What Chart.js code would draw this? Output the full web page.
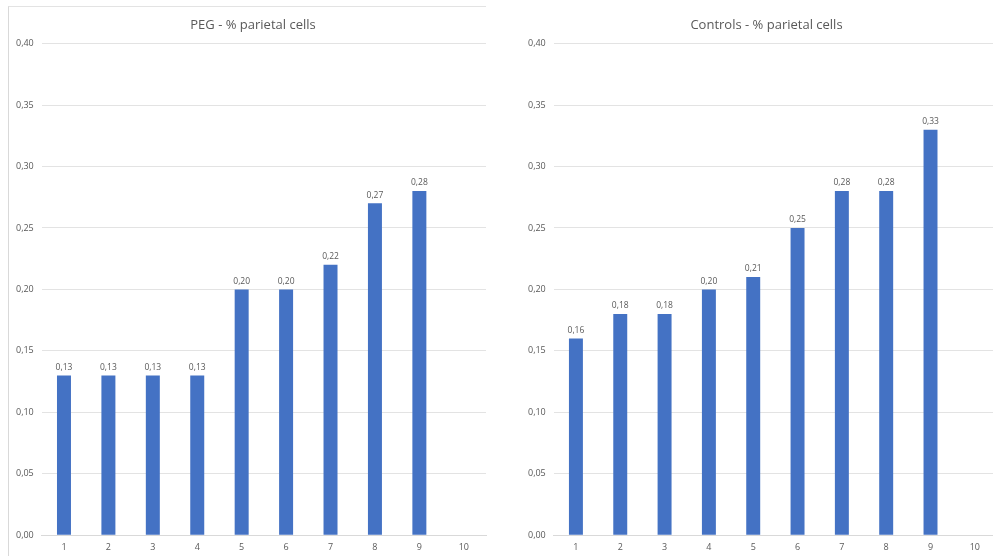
<!DOCTYPE html>
<html lang="en">
<head>
    <meta charset="UTF-8">
    <title>% parietal cells</title>
    <script src="https://cdn.jsdelivr.net/npm/chart.js"></script>
    <style>
        html, body {
            margin: 0;
            padding: 0;
            background: #fff;
            overflow: hidden;
            width: 993px;
            height: 556px;
        }
        .frame {
            position: absolute;
            left: 8px;
            top: 6px;
            width: 477px;
            height: 560px;
            border-left: 1px solid #d9d9d9;
            border-top: 1px solid #e3e3e3;
        }
        .box {
            position: absolute;
            top: 0;
            height: 556px;
        }
    </style>
</head>
<body>
    <div class="frame"></div>
    <div class="box" style="left:0; width:490px;"><canvas id="pegChart"></canvas></div>
    <div class="box" style="left:505px; width:498px;"><canvas id="controlChart"></canvas></div>

    <script>
        const categories = ['1', '2', '3', '4', '5', '6', '7', '8', '9', '10'];
        const pegValues = [0.13, 0.13, 0.13, 0.13, 0.20, 0.20, 0.22, 0.27, 0.28, null];
        const controlValues = [0.16, 0.18, 0.18, 0.20, 0.21, 0.25, 0.28, 0.28, 0.33, null];
        const yTicks = [0, 0.05, 0.10, 0.15, 0.20, 0.25, 0.30, 0.35, 0.40];

        const textColor = '#595959';
        const fontFamily = '"Open Sans", "Noto Sans", sans-serif';

        const comma = v => v.toFixed(2).replace('.', ',');

        // value labels above the bars
        const barLabels = {
            id: 'barLabels',
            afterDatasetsDraw(chart) {
                const ctx = chart.ctx;
                const ds = chart.data.datasets[0];
                ctx.save();
                ctx.font = '8.5px ' + fontFamily;
                ctx.fillStyle = textColor;
                ctx.textAlign = 'center';
                ctx.textBaseline = 'bottom';
                chart.getDatasetMeta(0).data.forEach((bar, i) => {
                    if (ds.data[i] == null) return;
                    ctx.fillText(comma(ds.data[i]), bar.x, bar.y - 4);
                });
                ctx.restore();
            }
        };

        // nudge the title sideways (Excel centres it on the whole chart box)
        const titleShift = {
            id: 'titleShift',
            afterLayout(chart, args, opts) {
                const t = chart.titleBlock;
                if (!t) return;
                t.left += opts.dx;
                t.right += opts.dx;
            }
        };

        function makeChart(id, title, values, padLeft, padRight, dx) {
            const ctx = document.getElementById(id).getContext('2d');
            return new Chart(ctx, {
                type: 'bar',
                data: {
                    labels: categories,
                    datasets: [{
                        data: values,
                        backgroundColor: '#4472C4',
                        barPercentage: 0.63,
                        categoryPercentage: 0.5
                    }]
                },
                options: {
                    responsive: true,
                    maintainAspectRatio: false,
                    animation: false,
                    layout: {
                        padding: { left: padLeft, right: padRight, top: 6, bottom: 4 }
                    },
                    plugins: {
                        legend: { display: false },
                        tooltip: { enabled: false },
                        titleShift: { dx: dx },
                        title: {
                            display: true,
                            text: title,
                            color: textColor,
                            font: { family: fontFamily, size: 13, weight: 'normal' },
                            padding: { top: 11, bottom: 11 }
                        }
                    },
                    scales: {
                        x: {
                            grid: { display: false },
                            border: { color: '#d9d9d9' },
                            ticks: {
                                color: textColor,
                                font: { family: fontFamily, size: 9 },
                                padding: -1
                            }
                        },
                        y: {
                            min: 0,
                            max: 0.4,
                            afterBuildTicks: axis => {
                                axis.ticks = yTicks.map(v => ({ value: v }));
                            },
                            grid: { color: '#e3e3e3', drawTicks: false },
                            border: { display: false },
                            ticks: {
                                color: textColor,
                                font: { family: fontFamily, size: 9 },
                                padding: 8,
                                callback: v => comma(v)
                            }
                        }
                    }
                },
                plugins: [barLabels, titleShift]
            });
        }

        makeChart('pegChart', 'PEG - % parietal cells', pegValues, 8, 4, 6);
        makeChart('controlChart', 'Controls - % parietal cells', controlValues, 15, 6, 8);
    </script>
</body>
</html>
